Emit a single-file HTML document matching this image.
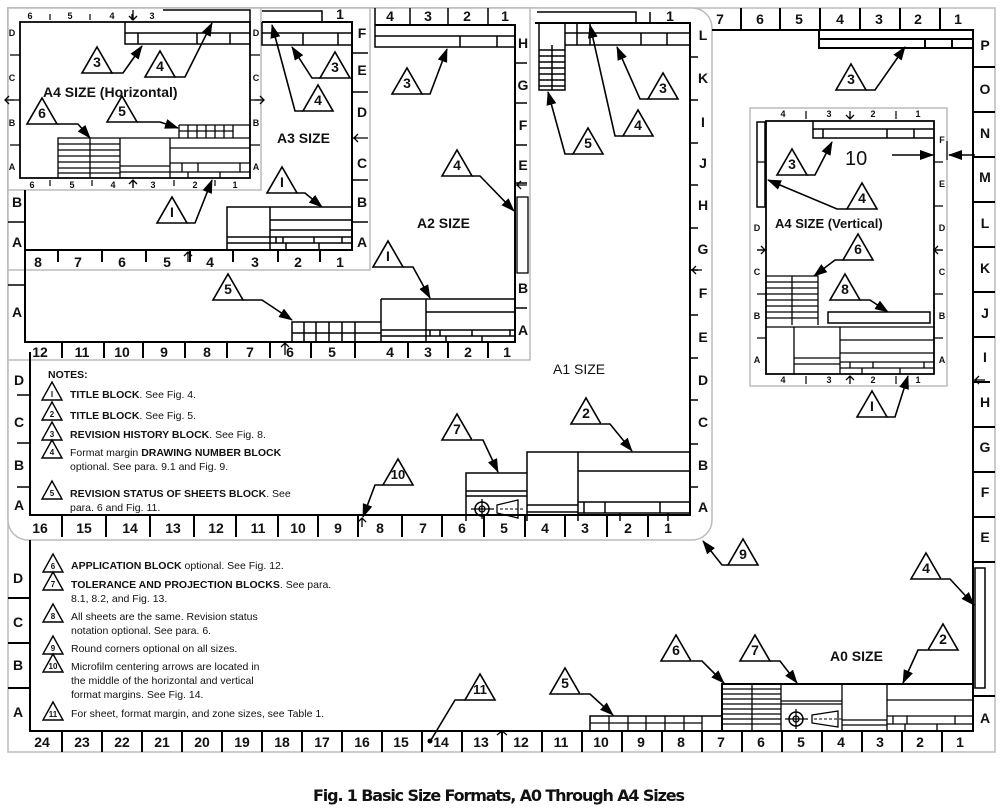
<!DOCTYPE html>
<html><head><meta charset="utf-8"><style>
html,body{margin:0;padding:0;background:#fff}
svg{display:block}
text{font-family:"Liberation Sans",Arial,sans-serif;font-weight:bold;fill:#111}
.n{font-weight:normal}
</style></head><body>
<svg width="1000" height="810" viewBox="0 0 1000 810" xmlns="http://www.w3.org/2000/svg">
<defs>
<marker id="a" markerWidth="14" markerHeight="10" refX="13" refY="5" orient="auto" markerUnits="userSpaceOnUse"><path d="M0,0 L14,5 L0,10 Z" fill="#000"/></marker>
<polygon id="t" points="-15,0 15,0 0,-26" fill="#fff" stroke="#000" stroke-width="1.6"/>
<polygon id="s" points="-10,0 10,0 0,-18" fill="#fff" stroke="#000" stroke-width="1.4"/>
</defs>
<rect width="1000" height="810" fill="#fff"/>
<!-- gray sheet outlines -->
<g fill="none" stroke="#bbb" stroke-width="1.5">
<rect x="8" y="8" width="987" height="744"/>
<path d="M8,8 H692 A20,20 0 0 1 712,28 V520 A20,20 0 0 1 692,540 H28 A20,20 0 0 1 8,520 Z" fill="#fff"/>
<rect x="8" y="8" width="522" height="352" fill="#fff"/>
<rect x="8" y="8" width="362" height="262" fill="#fff"/>
<rect x="8" y="8" width="253" height="182" fill="#fff"/>
<rect x="750" y="108" width="197" height="278" fill="#fff"/>
</g>
<g stroke="#000" stroke-width="2" fill="none">
<!-- A0 frame -->
<path d="M712,30 H973 V731 H30 V540"/>
<path d="M741,8V30M780,8V30M820,8V30M860,8V30M900,8V30M940,8V30"/>
<path d="M62,731V752M102,731V752M142,731V752M182,731V752M222,731V752M262,731V752M302,731V752M342,731V752M382,731V752M422,731V752M462,731V752M502,731V752M542,731V752M582,731V752M622,731V752M662,731V752M702,731V752M742,731V752M782,731V752M822,731V752M862,731V752M902,731V752M942,731V752"/>
<path d="M8,598H30M8,643H30M8,688H30"/>
<path d="M973,67H995M973,112H995M973,157H995M973,202H995M973,247H995M973,292H995M973,337H995M973,382H990M973,427H995M973,472H995M973,517H995M973,562H995M973,696H995"/>
<rect x="975" y="568" width="10" height="120" stroke-width="1.5"/>
<!-- A0 rev block -->
<path d="M819,30V48H973M819,39H973M925,39V48M952,39V48"/>
<!-- A0 title blocks -->
<rect x="590" y="716" width="132" height="15" stroke-width="1.5"/>
<path stroke-width="1.3" d="M590,723H702M609,716V731M628,716V731M646,716V731M665,716V731M684,716V731M702,716V731"/>
<rect x="722" y="684" width="251" height="47"/>
<path stroke-width="1.3" d="M722,689H781M722,694H781M722,699H781M722,704H781M722,709H781M722,714H781M722,719H781M722,724H781M752,684V731M781,684V731M842,684V731M887,684V731M781,701H842M781,704H842M842,720H887M842,725H887M887,700H973M887,716H973M887,724H973M893,716V724M907,716V724M955,716V724M905,724V731M937,724V731"/>
<circle cx="796" cy="719" r="7" stroke-width="1.5"/><circle cx="796" cy="719" r="3" stroke-width="1.3"/>
<path stroke-width="1.3" d="M785,719H808M796,709V729M812,715L838,711V727L812,723Z"/>
<path stroke-width="1" stroke-dasharray="3,2" d="M814,719H842"/>
<!-- A1 frame -->
<path d="M535,23H690V515H30V352"/>
<path stroke-width="1.5" d="M537,12H636V23M650,12V23"/>
<path d="M62,515V537M106,515V537M150,515V537M194,515V537M236,515V537M278,515V537M318,515V537M358,515V537M402,515V537M442,515V537M484,515V537M525,515V537M565,515V537M607,515V537M648,515V537"/>
<path stroke-width="1.5" d="M690,57H698M690,100H698M690,143H698M690,185H698M690,228H698M690,270H698M690,315H698M690,358H698M690,400H698M690,444H698M690,487H698M17,395H30M17,443H30M17,487H30"/>
<path stroke-width="1.5" d="M539,23V90H565V23M565,33H690M565,45H690M577,23V45M590,23V45M641,33V45M667,33V45M539,50H565M539,56H565M539,62H565M539,68H565M539,74H565M539,80H565M539,86H565M552,45V90"/>
<!-- A1 title blocks -->
<path stroke-width="1.5" d="M466,521V473H527V521M466,491H527M466,496H527M527,521V452H690M527,505H578M527,512H578M578,452V521M578,471H690M578,502H690M578,513H690M584,502V513M605,502V513M660,502V513M620,513V521M668,513V521"/>
<circle cx="482" cy="509" r="7" stroke-width="1.5"/><circle cx="482" cy="509" r="3" stroke-width="1.3"/>
<path stroke-width="1.3" d="M471,509H494M482,499V519M497,505L518,500V518L497,513Z"/>
<path stroke-width="1" stroke-dasharray="3,2" d="M500,509H523"/>
<!-- A2 frame -->
<path d="M375,25H515V342H25V250"/>
<path stroke-width="1.5" d="M375,8V25M410,8V25M448,8V25M488,8V25"/>
<path d="M62,342V358M104,342V358M143,342V358M185,342V358M227,342V358M270,342V358M311,342V358M355,342V358M408,342V358M448,342V358M488,342V358"/>
<path stroke-width="1.5" d="M515,63H527M515,103H527M515,145H527M515,183H527M515,308H527M8,285H25"/>
<rect x="517" y="197" width="11" height="76" stroke-width="1.3"/>
<path stroke-width="1.5" d="M375,25V47H515M375,36H515M460,36V47M497,36V47"/>
<path stroke-width="1.5" d="M292,342V322H381M292,333H381M304,322V342M316,322V342M329,322V342M342,322V342M355,322V342M381,299H515M381,299V342M426,299V342M426,312H515M426,330H515M381,330H426M381,336H426M430,330V336M440,330V336M472,330V336M510,330V336M446,336V342M482,336V342M426,336H515"/>
<!-- A3 frame -->
<path d="M262,22H352V250H25V190"/>
<path stroke-width="1.5" d="M262,11H322V22"/>
<path d="M58,250V262M102,250V262M146,250V262M190,250V262M233,250V262M278,250V262M320,250V262"/>
<path stroke-width="1.5" d="M352,53H368M352,92H368M352,180H368M352,222H368M8,222H25"/>
<path stroke-width="1.5" d="M262,22V45H352M262,33H352M303,33V45M338,33V45"/>
<path stroke-width="1.5" d="M227,250V207H352M270,207V250M270,220H352M270,230H352M227,237H270M227,243H270M270,237H352M276,237V243M283,237V243M314,237V243M342,237V243M286,243V250M319,243V250M270,243H352"/>
<!-- A4 horizontal -->
<path stroke-width="1.8" d="M20,22H250V178H20Z"/>
<path stroke-width="1.2" d="M50,14V20M90,14V20M132,14V20M50,180V186M92,180V186M133,180V186M174,180V186M215,180V186M10,55H20M10,100H20M10,145H20M250,55H260M250,100H260M250,145H260"/>
<path stroke-width="1.5" d="M163,10H250V22M125,22V44H250M125,33H250M138,33V44M197,33V44M230,33V44"/>
<path stroke-width="1.3" d="M179,125H250V138M179,125V138M179,131H233M188,125V138M197,125V138M206,125V138M215,125V138M224,125V138M233,125V138"/>
<path stroke-width="1.3" d="M58,178V138H250M58,144H120M58,150H120M58,156H120M58,162H120M58,168H120M58,173H120M90,138V178M120,138V178M170,138V178M170,148H250M170,163H250M120,166H170M120,172H170M182,163V172M198,163V172M240,163V172M170,172H250M188,172V178M220,172V178"/>
<!-- A4 vertical -->
<path stroke-width="1.8" d="M766,121H934V374H766Z"/>
<path stroke-width="1.2" d="M806,111V119M896,111V119M806,376V384M896,376V384M757,162H766M757,250H766M757,294H766M757,338H766M934,162H943M934,206H943M934,250H943M934,294H943M934,338H943"/>
<path stroke-width="1.5" d="M813,121V138H934M823,129V138M813,129H934M887,129V138M914,129V138"/>
<rect x="757" y="122" width="8" height="85" stroke-width="1.5"/>
<path stroke-width="1.3" d="M766,276H818V325M766,282H818M766,288H818M766,294H818M766,300H818M766,306H818M766,312H818M766,318H818M792,276V325"/>
<rect x="828" y="312" width="102" height="11" stroke-width="1.5"/>
<path stroke-width="1.3" d="M766,327H934M794,327V374M840,327V374M840,340H934M840,353H934M794,358H840M794,364H840M840,362H934M850,362V368M873,362V368M924,362V368M840,368H934M862,368V374M900,368V374"/>
<path stroke-width="1.2" d="M947,141V160"/>
</g>
<!-- microfilm arrows -->
<g stroke="#000" stroke-width="1.3" fill="none">
<path d="M133,10V20M129,16L133,20L137,16M133,180V188M129,184L133,180L137,184M5,100H14M9,96L5,100L9,104M255,100H264M260,96L264,100L260,104M188,252V262M184,256L188,252L192,256M352,138H368M358,134L354,138L358,142M515,185H527M521,181L517,185L521,189M285,343V355M281,347L285,343L289,347M690,270H702M696,266L692,270L696,274M362,518V527M358,522L362,518L366,522M502,731V740M497,735L502,731L507,735M973,380H985M979,376L975,380L979,384M850,111V119M846,115L850,119L854,115M850,376V384M846,380L850,376L854,380M757,250H765M761,246L765,250L761,254M934,250H942M938,246L934,250L938,254"/>
</g>
<!-- leaders -->
<g stroke="#000" stroke-width="1.6" fill="none" marker-end="url(#a)">
<path d="M110,73H123L142,46"/><path d="M175,77H185L212,23"/><path d="M57,124H78L90,138"/><path d="M137,122H160L178,128"/><path d="M187,223H195L212,180"/>
<path d="M320,78H312L292,47"/><path d="M303,111H295L272,25"/><path d="M297,193H305L322,207"/>
<path d="M422,94H430L447,49"/><path d="M472,176H480L514,211"/><path d="M403,267H413L430,298"/><path d="M243,300H262L292,320"/>
<path d="M648,99H640L617,47"/><path d="M623,136H615L590,25"/><path d="M573,154H565L548,92"/>
<path d="M473,440H483L498,472"/><path d="M602,424H610L632,451"/><path d="M383,485H375L363,517"/><path d="M728,565H722L703,541"/>
<path d="M866,90H875L905,47"/><path d="M942,579H950L974,605"/><path d="M927,650H918L903,683"/><path d="M770,661H780L797,683"/><path d="M692,661H702L724,683"/><path d="M581,694H590L613,715"/>
<path d="M807,175H815L832,142"/><path d="M847,209H837L768,180"/><path d="M843,260H835L814,276"/><path d="M860,300H870L888,312"/><path d="M887,417H895L908,376"/>
<path d="M892,155H933"/><path d="M975,155H949"/>
</g>
<path d="M465,700H455L431,740" stroke="#000" stroke-width="1.6" fill="none"/><circle cx="430" cy="741" r="2.5"/>
<!-- triangles -->
<g font-size="14" text-anchor="middle">
<use href="#t" x="97" y="73"/><text x="97" y="67">3</text>
<use href="#t" x="160" y="77"/><text x="160" y="71">4</text>
<use href="#t" x="42" y="124"/><text x="42" y="118">6</text>
<use href="#t" x="122" y="122"/><text x="122" y="116">5</text>
<use href="#t" x="172" y="223"/><text x="172" y="217">I</text>
<use href="#t" x="335" y="78"/><text x="335" y="72">3</text>
<use href="#t" x="318" y="111"/><text x="318" y="105">4</text>
<use href="#t" x="282" y="193"/><text x="282" y="187">I</text>
<use href="#t" x="407" y="94"/><text x="407" y="88">3</text>
<use href="#t" x="457" y="176"/><text x="457" y="170">4</text>
<use href="#t" x="388" y="267"/><text x="388" y="261">I</text>
<use href="#t" x="228" y="300"/><text x="228" y="294">5</text>
<use href="#t" x="663" y="99"/><text x="663" y="93">3</text>
<use href="#t" x="638" y="136"/><text x="638" y="130">4</text>
<use href="#t" x="588" y="154"/><text x="588" y="148">5</text>
<use href="#t" x="457" y="440"/><text x="457" y="434">7</text>
<use href="#t" x="586" y="424"/><text x="586" y="418">2</text>
<use href="#t" x="398" y="485"/><text x="398" y="479" font-size="13">10</text>
<use href="#t" x="743" y="565"/><text x="743" y="559">9</text>
<use href="#t" x="851" y="90"/><text x="851" y="84">3</text>
<use href="#t" x="926" y="579"/><text x="926" y="573">4</text>
<use href="#t" x="943" y="650"/><text x="943" y="644">2</text>
<use href="#t" x="755" y="661"/><text x="755" y="655">7</text>
<use href="#t" x="676" y="661"/><text x="676" y="655">6</text>
<use href="#t" x="565" y="694"/><text x="565" y="688">5</text>
<use href="#t" x="480" y="700"/><text x="480" y="694" font-size="13">11</text>
<use href="#t" x="792" y="175"/><text x="792" y="169">3</text>
<use href="#t" x="862" y="209"/><text x="862" y="203">4</text>
<use href="#t" x="858" y="260"/><text x="858" y="254">6</text>
<use href="#t" x="845" y="300"/><text x="845" y="294">8</text>
<use href="#t" x="872" y="417"/><text x="872" y="411">I</text>
</g>
<!-- rulers text -->
<g font-size="14" text-anchor="middle">
<text x="42" y="747">24</text><text x="82" y="747">23</text><text x="122" y="747">22</text><text x="162" y="747">21</text><text x="202" y="747">20</text><text x="242" y="747">19</text><text x="282" y="747">18</text><text x="322" y="747">17</text><text x="362" y="747">16</text><text x="401" y="747">15</text><text x="441" y="747">14</text><text x="481" y="747">13</text><text x="521" y="747">12</text><text x="561" y="747">11</text><text x="601" y="747">10</text><text x="641" y="747">9</text><text x="681" y="747">8</text><text x="721" y="747">7</text><text x="761" y="747">6</text><text x="801" y="747">5</text><text x="841" y="747">4</text><text x="880" y="747">3</text><text x="920" y="747">2</text><text x="960" y="747">1</text>
<text x="720" y="24">7</text><text x="760" y="24">6</text><text x="799" y="24">5</text><text x="840" y="24">4</text><text x="879" y="24">3</text><text x="918" y="24">2</text><text x="958" y="24">1</text>
<text x="18" y="583">D</text><text x="18" y="627">C</text><text x="18" y="670">B</text><text x="18" y="717">A</text>
<text x="985" y="50">P</text><text x="985" y="94">O</text><text x="985" y="138">N</text><text x="985" y="182">M</text><text x="985" y="228">L</text><text x="985" y="273">K</text><text x="985" y="318">J</text><text x="985" y="362">I</text><text x="985" y="407">H</text><text x="985" y="452">G</text><text x="985" y="497">F</text><text x="985" y="542">E</text><text x="985" y="723">A</text>
<text x="40" y="533">16</text><text x="84" y="533">15</text><text x="130" y="533">14</text><text x="173" y="533">13</text><text x="216" y="533">12</text><text x="258" y="533">11</text><text x="298" y="533">10</text><text x="338" y="533">9</text><text x="380" y="533">8</text><text x="423" y="533">7</text><text x="462" y="533">6</text><text x="504" y="533">5</text><text x="545" y="533">4</text><text x="585" y="533">3</text><text x="628" y="533">2</text><text x="668" y="533">1</text>
<text x="670" y="21">1</text>
<text x="703" y="40">L</text><text x="703" y="83">K</text><text x="703" y="127">I</text><text x="703" y="168">J</text><text x="703" y="210">H</text><text x="703" y="254">G</text><text x="703" y="298">F</text><text x="703" y="342">E</text><text x="703" y="385">D</text><text x="703" y="427">C</text><text x="703" y="470">B</text><text x="703" y="512">A</text>
<text x="19" y="385">D</text><text x="19" y="427">C</text><text x="19" y="470">B</text><text x="19" y="510">A</text>
<text x="40" y="357">12</text><text x="82" y="357">11</text><text x="122" y="357">10</text><text x="164" y="357">9</text><text x="207" y="357">8</text><text x="250" y="357">7</text><text x="290" y="357">6</text><text x="332" y="357">5</text><text x="390" y="357">4</text><text x="428" y="357">3</text><text x="468" y="357">2</text><text x="507" y="357">1</text>
<text x="390" y="21">4</text><text x="428" y="21">3</text><text x="467" y="21">2</text><text x="505" y="21">1</text>
<text x="523" y="48">H</text><text x="523" y="90">G</text><text x="523" y="130">F</text><text x="523" y="170">E</text><text x="523" y="293">B</text><text x="523" y="335">A</text><text x="17" y="317">A</text>
<text x="38" y="267">8</text><text x="78" y="267">7</text><text x="122" y="267">6</text><text x="167" y="267">5</text><text x="210" y="267">4</text><text x="255" y="267">3</text><text x="298" y="267">2</text><text x="340" y="267">1</text>
<text x="340" y="19">1</text>
<text x="362" y="38">F</text><text x="362" y="75">E</text><text x="362" y="117">D</text><text x="362" y="168">C</text><text x="362" y="207">B</text><text x="362" y="247">A</text>
<text x="17" y="207">B</text><text x="17" y="247">A</text>
</g>
<g font-size="9" text-anchor="middle">
<text x="30" y="19">6</text><text x="70" y="19">5</text><text x="112" y="19">4</text><text x="152" y="19">3</text>
<text x="32" y="188">6</text><text x="72" y="188">5</text><text x="113" y="188">4</text><text x="153" y="188">3</text><text x="195" y="188">2</text><text x="235" y="188">1</text>
<text x="12" y="36">D</text><text x="12" y="81">C</text><text x="12" y="126">B</text><text x="12" y="170">A</text>
<text x="256" y="36">D</text><text x="256" y="81">C</text><text x="256" y="126">B</text><text x="256" y="170">A</text>
<text x="783" y="117">4</text><text x="829" y="117">3</text><text x="873" y="117">2</text><text x="918" y="117">1</text>
<text x="783" y="383">4</text><text x="829" y="383">3</text><text x="873" y="383">2</text><text x="918" y="383">1</text>
<text x="757" y="231">D</text><text x="757" y="275">C</text><text x="757" y="319">B</text><text x="757" y="363">A</text>
<text x="942" y="143">F</text><text x="942" y="187">E</text><text x="942" y="231">D</text><text x="942" y="275">C</text><text x="942" y="319">B</text><text x="942" y="363">A</text>
</g>
<!-- size labels -->
<g font-size="14">
<text x="43" y="97">A4  SIZE  (Horizontal)</text>
<text x="277" y="143">A3  SIZE</text>
<text x="417" y="228">A2  SIZE</text>
<text x="553" y="374" class="n">A1  SIZE</text>
<text x="830" y="661">A0  SIZE</text>
<text x="775" y="228" font-size="13">A4  SIZE  (Vertical)</text>
</g>
<text x="845" y="165" font-size="20" class="n">10</text>
<!-- notes -->
<g font-size="8" text-anchor="middle">
<use href="#s" x="52" y="400"/><text x="52" y="397">I</text>
<use href="#s" x="52" y="420"/><text x="52" y="417">2</text>
<use href="#s" x="52" y="440"/><text x="52" y="437">3</text>
<use href="#s" x="52" y="458"/><text x="52" y="455">4</text>
<use href="#s" x="52" y="499"/><text x="52" y="496">5</text>
<use href="#s" x="53" y="572"/><text x="53" y="569">6</text>
<use href="#s" x="53" y="590"/><text x="53" y="587">7</text>
<use href="#s" x="53" y="622"/><text x="53" y="619">8</text>
<use href="#s" x="53" y="654"/><text x="53" y="651">9</text>
<use href="#s" x="53" y="672"/><text x="53" y="669">10</text>
<use href="#s" x="53" y="720"/><text x="53" y="717">11</text>
</g>
<g font-size="10.5">
<text x="48" y="378">NOTES:</text>
<text x="70" y="398">TITLE BLOCK<tspan class="n">. See Fig. 4.</tspan></text>
<text x="70" y="419">TITLE BLOCK<tspan class="n">. See Fig. 5.</tspan></text>
<text x="70" y="438">REVISION HISTORY BLOCK<tspan class="n">. See Fig. 8.</tspan></text>
<text x="70" y="456"><tspan class="n">Format margin </tspan>DRAWING NUMBER BLOCK</text>
<text x="70" y="470" class="n">optional. See para. 9.1 and Fig. 9.</text>
<text x="70" y="497">REVISION STATUS OF SHEETS BLOCK<tspan class="n">. See</tspan></text>
<text x="70" y="511" class="n">para. 6 and Fig. 11.</text>
<text x="71" y="569">APPLICATION BLOCK<tspan class="n"> optional. See Fig. 12.</tspan></text>
<text x="71" y="588">TOLERANCE AND PROJECTION BLOCKS<tspan class="n">. See para.</tspan></text>
<text x="71" y="602" class="n">8.1, 8.2, and Fig. 13.</text>
<text x="71" y="620" class="n">All sheets are the same. Revision status</text>
<text x="71" y="634" class="n">notation optional. See para. 6.</text>
<text x="71" y="652" class="n">Round corners optional on all sizes.</text>
<text x="71" y="670" class="n">Microfilm centering arrows are located in</text>
<text x="71" y="684" class="n">the middle of the horizontal and vertical</text>
<text x="71" y="698" class="n">format margins. See Fig. 14.</text>
<text x="71" y="717" class="n">For sheet, format margin, and zone sizes, see Table 1.</text>
</g>
<text x="313" y="801" font-size="16" style="font-family:'DejaVu Sans','Liberation Sans',sans-serif" textLength="372">Fig. 1    Basic Size Formats, A0 Through A4 Sizes</text>
</svg>
</body></html>
